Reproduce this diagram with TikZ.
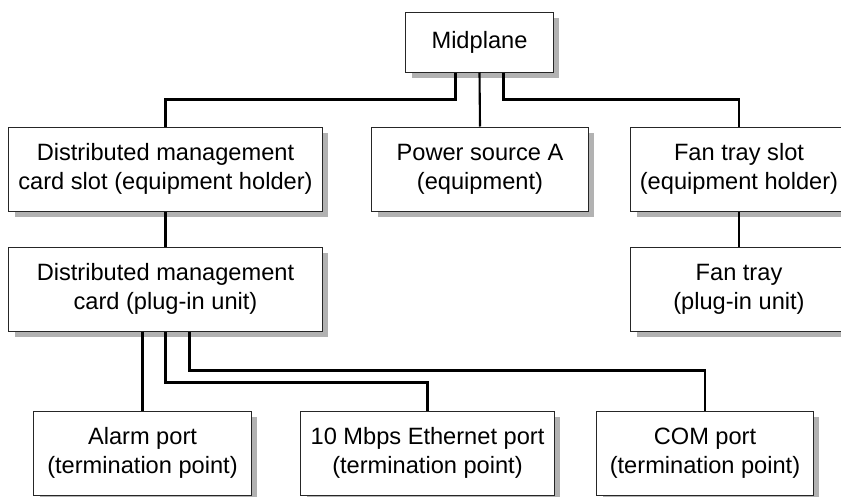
\documentclass[tikz,border=0pt]{standalone}
\usepackage{fontspec}
\setmainfont{Liberation Sans}
\usetikzlibrary{calc,shadows}

\begin{document}
\begin{tikzpicture}[x=0.025cm, y=-0.025cm]
 \tikzstyle{cadre}=[rectangle, draw=black!85, line width=0.7pt, fill=white, align=center, inner sep=0pt, minimum height=2.1cm, font=\fontsize{16.8}{20.6}\selectfont, drop shadow={shadow xshift=0.15cm, shadow yshift=-0.15cm, fill=black!30, opacity=1}]
 \tikzstyle{trait}=[line width=1.5pt, black]
 %
 \useasboundingbox (0,0) rectangle (841,496);
 \clip (0,0) rectangle (841,496);
 %
 \node[cadre, minimum width=3.675cm, minimum height=1.5cm] (Mid) at (479.5, 42) {Midplane};
 %
 \node[cadre, minimum width=7.825cm] (DMCslot) at (165.5, 169) {Distributed management\\card slot (equipment holder)};
 \node[cadre, minimum width=5.4cm] (PowA) at (480, 169) {Power source A\\(equipment)};
 \node[cadre, minimum width=5.4cm] (FANslot) at (739, 169) {Fan tray slot\\(equipment holder)};
 %
 \node[cadre, minimum width=7.825cm] (DMC) at (165.5, 289) {Distributed management\\card (plug-in unit)};
 \node[cadre, minimum width=5.4cm] (FAN) at (739, 289) {Fan tray\\(plug-in unit)};
 %
 \node[cadre, minimum width=5.425cm] (Alarm) at (142.5, 453) {Alarm port\\(termination point)};
 \node[cadre, minimum width=6.325cm] (Eth) at (427.5, 453) {10 Mbps Ethernet port\\(termination point)};
 \node[cadre, minimum width=5.4cm] (COM) at (705, 453) {COM port\\(termination point)};
 %%
 \draw[trait] ($(Mid.south)+(-24,0)$) -- ++(0,27) -| (DMCslot.north);
 \draw[trait] (Mid.south) -- (PowA.north);
 \draw[trait] ($(Mid.south)+(24,0)$) -- ++(0,27) -| (FANslot.north);
 \draw[trait] (DMCslot.south) -- (DMC.north);
 \draw[trait] (FANslot.south) -- (FAN.north);
 \draw[trait] (Alarm.north |- DMC.south) -- (Alarm.north);
 \draw[trait] (DMC.south) -- ++(0,51) -| (Eth.north);
 \draw[trait] ($(DMC.south)+(24,0)$) -- ++(0,39) -| (COM.north);
\end{tikzpicture}
\end{document}
